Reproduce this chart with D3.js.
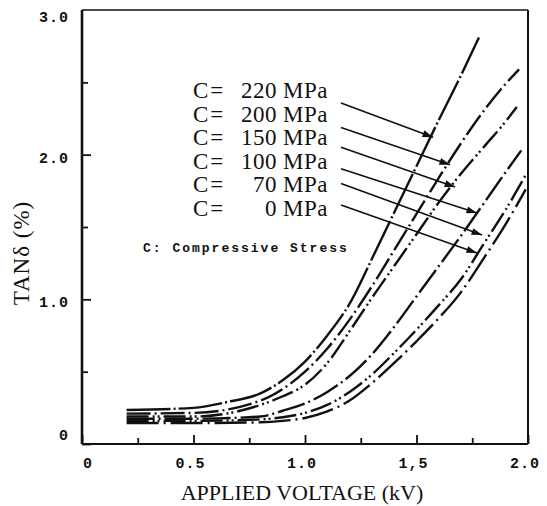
<!DOCTYPE html>
<html>
<head>
<meta charset="utf-8">
<script src="https://d3js.org/d3.v7.min.js"></script>
<style>
    body { margin: 0; background: #fff; }
    svg { display: block; }
    .serif { font-family: "Liberation Serif", "DejaVu Serif", serif; fill: #111; }
    .tick-label { font-family: "Liberation Mono", "DejaVu Sans Mono", monospace; font-weight: bold; font-size: 15px; letter-spacing: 1px; fill: #111; }
    .note { font-family: "Liberation Mono", "DejaVu Sans Mono", monospace; font-weight: bold; font-size: 13px; letter-spacing: 2px; fill: #111; }
</style>
</head>
<body>
<div id="chart"></div>
<script>
    // tan delta (%) vs applied voltage (kV), one pair of arrays per compressive stress
    const v220 = [0.2, 0.5, 0.65, 0.8, 0.9, 1.0, 1.1, 1.2, 1.3, 1.4, 1.5, 1.6, 1.7, 1.78];
    const t220 = [0.235, 0.25, 0.29, 0.35, 0.44, 0.57, 0.75, 0.97, 1.28, 1.60, 1.92, 2.24, 2.55, 2.81];
    const v200 = [0.2, 0.5, 0.8, 0.9, 1.0, 1.1, 1.2, 1.3, 1.4, 1.5, 1.6, 1.7, 1.8, 1.9, 1.96];
    const t200 = [0.21, 0.215, 0.30, 0.38, 0.50, 0.66, 0.86, 1.09, 1.34, 1.59, 1.84, 2.08, 2.30, 2.49, 2.59];
    const v150 = [0.2, 0.5, 0.8, 0.9, 1.0, 1.1, 1.2, 1.3, 1.4, 1.5, 1.6, 1.7, 1.8, 1.9, 1.95];
    const t150 = [0.19, 0.19, 0.27, 0.33, 0.41, 0.56, 0.78, 1.01, 1.23, 1.45, 1.67, 1.87, 2.05, 2.23, 2.33];
    const v100 = [0.2, 0.5, 0.8, 0.9, 1.0, 1.1, 1.2, 1.3, 1.4, 1.5, 1.6, 1.7, 1.8, 1.9, 1.97];
    const t100 = [0.175, 0.175, 0.19, 0.23, 0.28, 0.36, 0.47, 0.62, 0.81, 1.02, 1.23, 1.44, 1.66, 1.88, 2.03];
    const v70 = [0.2, 0.5, 0.8, 0.9, 1.0, 1.1, 1.2, 1.3, 1.4, 1.5, 1.6, 1.7, 1.8, 1.9, 1.99];
    const t70 = [0.16, 0.16, 0.17, 0.185, 0.215, 0.27, 0.36, 0.48, 0.63, 0.79, 0.96, 1.14, 1.38, 1.62, 1.86];
    const v0 = [0.2, 0.5, 0.8, 0.9, 1.0, 1.1, 1.2, 1.3, 1.4, 1.5, 1.6, 1.7, 1.8, 1.9, 1.99];
    const t0 = [0.145, 0.145, 0.15, 0.16, 0.18, 0.225, 0.30, 0.42, 0.56, 0.71, 0.87, 1.05, 1.28, 1.52, 1.76];

    const stressLabels = ['220', '200', '150', '100', '70', '0'];
    // where each label's arrow points (voltage, tan delta)
    const arrowV = [1.574, 1.65, 1.673, 1.771, 1.794, 1.771];
    const arrowT = [2.12, 1.93, 1.776, 1.596, 1.444, 1.32];

    const xMajor = [0, 0.5, 1.0, 1.5, 2.0];
    const xMinor = [0.25, 0.75, 1.25, 1.75];
    const xTickText = ['0', '0.5', '1.0', '1,5', '2.0'];
    const yMajor = [0, 1.0, 2.0, 3.0];
    const yMinor = [0.5, 1.5, 2.5];
    const yTickText = ['0', '1.0', '2.0', '3.0'];

    const width = 547, height = 506;
    const margin = { top: 10, right: 19, bottom: 62, left: 82 };

    const svg = d3.select('#chart').append('svg')
        .attr('width', width)
        .attr('height', height);

    const x = d3.scaleLinear().domain([0, 2.0]).range([margin.left, width - margin.right]);
    const y = d3.scaleLinear().domain([0, 3.0]).range([height - margin.bottom, margin.top]);

    // frame
    const x0 = x(0), x1 = x(2.0), y0 = y(0), y1 = y(3.0);
    svg.append('line').attr('x1', x0).attr('x2', x0).attr('y1', y1).attr('y2', y0)
        .attr('stroke', '#111').attr('stroke-width', 2.6);
    svg.append('line').attr('x1', x0).attr('x2', x1).attr('y1', y0).attr('y2', y0)
        .attr('stroke', '#111').attr('stroke-width', 2.2);
    svg.append('line').attr('x1', x0).attr('x2', x1).attr('y1', y1).attr('y2', y1)
        .attr('stroke', '#111').attr('stroke-width', 1.6);
    svg.append('line').attr('x1', x1).attr('x2', x1).attr('y1', y1).attr('y2', y0)
        .attr('stroke', '#111').attr('stroke-width', 2);

    // ticks point inward
    const xAxis = d3.axisTop(x).tickValues(xMajor.concat(xMinor)).tickSizeInner(0).tickSizeOuter(0).tickFormat('');
    const gx = svg.append('g').attr('transform', `translate(0,${y0})`).call(xAxis);
    gx.select('.domain').remove();
    gx.selectAll('.tick line')
        .attr('y2', d => xMajor.includes(d) ? -9 : -6)
        .attr('stroke', '#111').attr('stroke-width', 1.8);

    const yAxis = d3.axisRight(y).tickValues(yMajor.concat(yMinor)).tickSizeInner(0).tickSizeOuter(0).tickFormat('');
    const gy = svg.append('g').attr('transform', `translate(${x0},0)`).call(yAxis);
    gy.select('.domain').remove();
    gy.selectAll('.tick line')
        .attr('x2', d => d === 3.0 ? 0 : (yMajor.includes(d) ? 9 : 6))
        .attr('stroke', '#111').attr('stroke-width', 1.8);

    svg.append('g').selectAll('text')
        .data(xMajor)
        .join('text')
        .attr('class', 'tick-label')
        .attr('x', d => x(d) + (d === 0 ? 6 : -3))
        .attr('y', y0 + 24)
        .attr('text-anchor', 'middle')
        .text((d, i) => xTickText[i]);

    svg.append('g').selectAll('text')
        .data(yMajor)
        .join('text')
        .attr('class', 'tick-label')
        .attr('x', x0 - 13)
        .attr('y', d => y(d) + (d === 0 ? -4 : (d === 3.0 ? 12 : 8)))
        .attr('text-anchor', 'end')
        .text((d, i) => yTickText[i]);

    // axis titles
    svg.append('text')
        .attr('class', 'serif')
        .attr('x', 302)
        .attr('y', 500)
        .attr('text-anchor', 'middle')
        .attr('font-size', 22)
        .text('APPLIED VOLTAGE (kV)');

    svg.append('text')
        .attr('class', 'serif')
        .attr('transform', 'translate(29,253) rotate(-90)')
        .attr('text-anchor', 'middle')
        .attr('font-size', 23)
        .attr('letter-spacing', 1)
        .text('TANδ (%)');

    // curves
    const series = [
        { v: v220, t: t220, dash: '44,3,2,3' },
        { v: v200, t: t200, dash: '24,4,2,4' },
        { v: v150, t: t150, dash: '22,4,2,3,2,4' },
        { v: v100, t: t100, dash: '28,4,2,4' },
        { v: v70, t: t70, dash: '22,4,2,3,2,4' },
        { v: v0, t: t0, dash: '32,5,2,5' }
    ];

    const line = d3.line()
        .x(d => x(d[0]))
        .y(d => y(d[1]))
        .curve(d3.curveMonotoneX);

    svg.append('g').selectAll('path')
        .data(series)
        .join('path')
        .attr('d', s => line(s.v.map((v, i) => [v, s.t[i]])))
        .attr('fill', 'none')
        .attr('stroke', '#111')
        .attr('stroke-width', 2.4)
        .attr('stroke-dasharray', s => s.dash);

    // legend labels and arrows
    const rowY = i => 98 + i * 23.6;
    const startDy = [5, 6, 2, 0, -9, -11];
    const lab = svg.append('g');
    stressLabels.forEach((s, i) => {
        lab.append('text').attr('class', 'serif').attr('font-size', 23)
            .attr('x', 193).attr('y', rowY(i)).attr('letter-spacing', 2).text('C=');
        lab.append('text').attr('class', 'serif').attr('font-size', 23)
            .attr('x', 277).attr('y', rowY(i)).attr('text-anchor', 'end').attr('letter-spacing', 0.5).text(s);
        lab.append('text').attr('class', 'serif').attr('font-size', 23)
            .attr('x', 283).attr('y', rowY(i)).attr('letter-spacing', 0.5).text('MPa');
    });

    svg.append('defs').append('marker')
        .attr('id', 'head')
        .attr('viewBox', '0 0 12 8')
        .attr('refX', 12).attr('refY', 4)
        .attr('markerWidth', 13).attr('markerHeight', 7)
        .attr('markerUnits', 'userSpaceOnUse')
        .attr('orient', 'auto')
        .append('path')
        .attr('d', 'M0,0 L12,4 L0,8 Z')
        .attr('fill', '#111');

    lab.selectAll('line.arrow')
        .data(stressLabels)
        .join('line')
        .attr('class', 'arrow')
        .attr('x1', 341)
        .attr('y1', (d, i) => rowY(i) + startDy[i])
        .attr('x2', (d, i) => x(arrowV[i]))
        .attr('y2', (d, i) => y(arrowT[i]))
        .attr('stroke', '#111')
        .attr('stroke-width', 1.6)
        .attr('marker-end', 'url(#head)');

    svg.append('text')
        .attr('class', 'note')
        .attr('x', 143)
        .attr('y', 252)
        .text('C: Compressive Stress');
</script>
</body>
</html>
